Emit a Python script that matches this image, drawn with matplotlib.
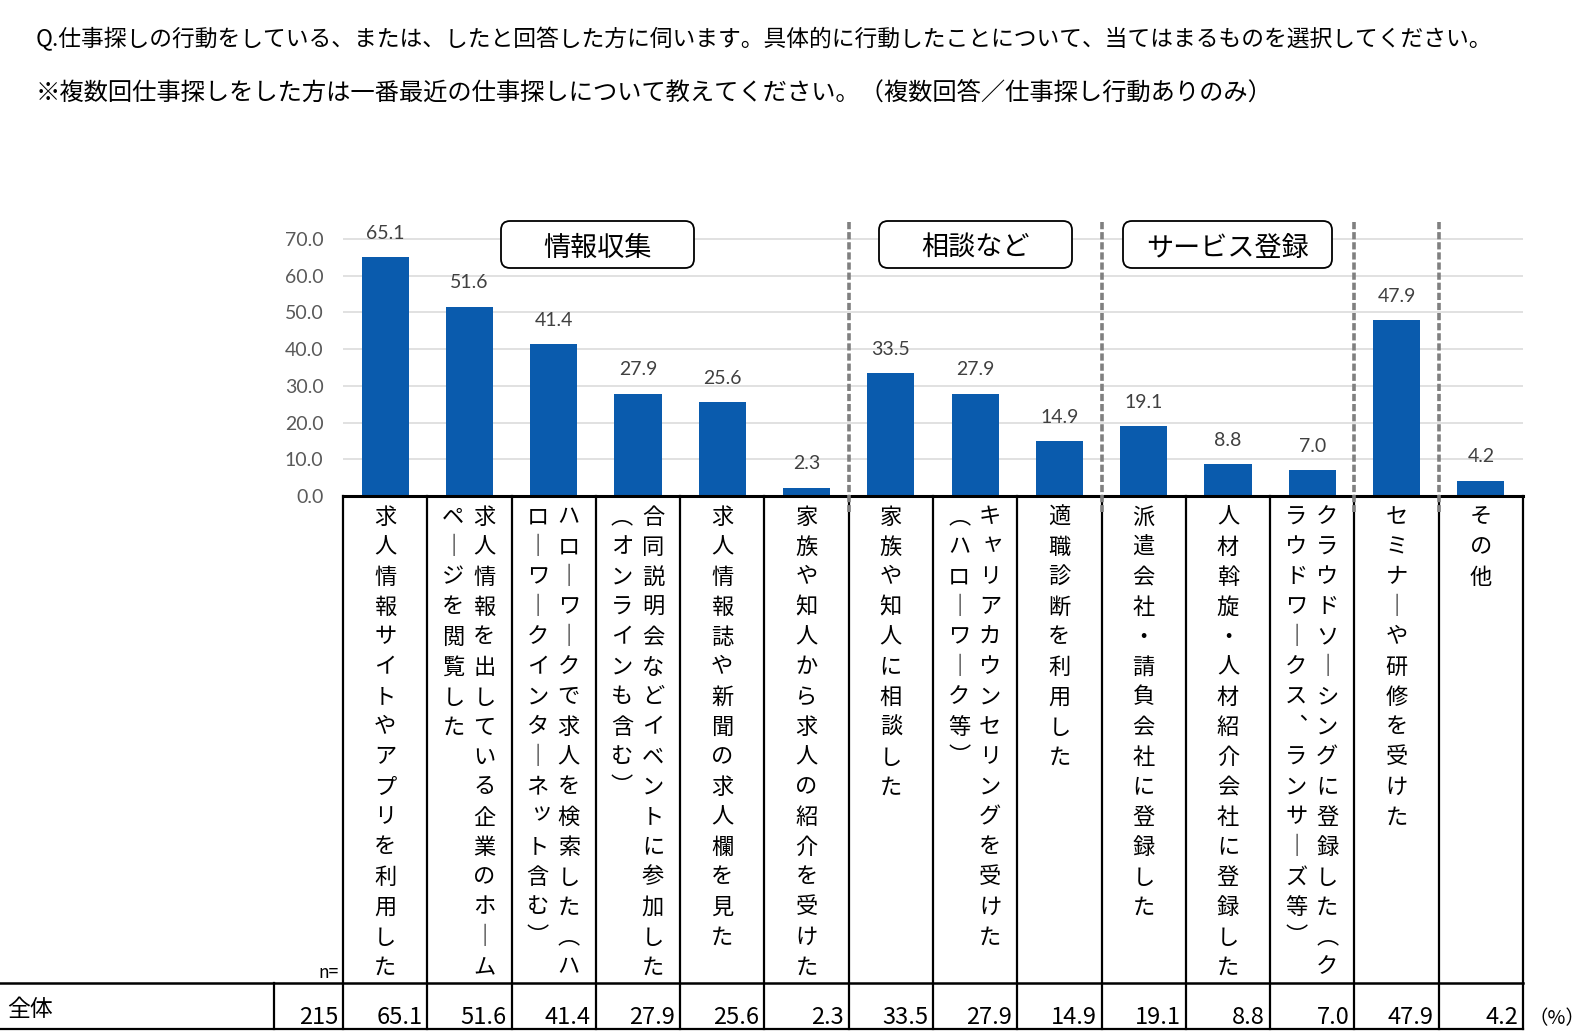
import matplotlib
matplotlib.use('Agg')
import matplotlib.pyplot as plt
from matplotlib.patches import FancyBboxPatch
import numpy as np

plt.rcParams['font.family'] = ['Noto Sans CJK JP', 'DejaVu Sans']

# ---- data ----
title1 = 'Q.仕事探しの行動をしている、または、したと回答した方に伺います。具体的に行動したことについて、当てはまるものを選択してください。'
title2 = '※複数回仕事探しをした方は一番最近の仕事探しについて教えてください。（複数回答／仕事探し行動ありのみ）'
categories = [
    '求人情報サイトやアプリを利用した',
    '求人情報を出している企業のホームページを閲覧した',
    'ハローワークで求人を検索した（ハローワークインターネット含む）',
    '合同説明会などイベントに参加した（オンラインも含む）',
    '求人情報誌や新聞の求人欄を見た',
    '家族や知人から求人の紹介を受けた',
    '家族や知人に相談した',
    'キャリアカウンセリングを受けた（ハローワーク等）',
    '適職診断を利用した',
    '派遣会社・請負会社に登録した',
    '人材斡旋・人材紹介会社に登録した',
    'クラウドソーシングに登録した（クラウドワークス、ランサーズ等）',
    'セミナーや研修を受けた',
    'その他',
]
values = [65.1, 51.6, 41.4, 27.9, 25.6, 2.3, 33.5, 27.9, 14.9, 19.1, 8.8, 7.0, 47.9, 4.2]
group_names = ['情報収集', '相談など', 'サービス登録']
group_breaks = [5.5, 8.5, 11.5, 12.5]
row_label = '全体'
n_total = 215
y_ticks = np.arange(0, 71, 10)

# ---- layout (pixels) ----
W, H = 1593, 1032
X0, X1 = 343, 1523
COLW = (X1 - X0) / len(values)
Y0, Y70, YTOP = 496, 239, 221
BOX_BOTTOM, ROW_BOTTOM = 983, 1029

fig = plt.figure(figsize=(W / 100, H / 100), dpi=100)
per = (Y0 - Y70) / 70
ymax = (Y0 - YTOP) / per

ax = fig.add_axes([X0 / W, 1 - Y0 / H, (X1 - X0) / W, (Y0 - YTOP) / H])
x = np.arange(len(values))
ax.bar(x, values, width=0.56, color='#0A5BAD', zorder=3)
ax.set_xlim(-0.5, len(values) - 0.5)
ax.set_ylim(0, ymax)
ax.set_yticks(y_ticks)
ax.set_yticklabels(['%.1f' % v for v in y_ticks], family='Lato', fontsize=14, color='#595959')
ax.tick_params(axis='y', length=0, pad=14)
ax.set_xticks([])
ax.grid(axis='y', color='#d9d9d9', lw=1.1, zorder=0)
for s in ax.spines.values():
    s.set_visible(False)
for xi, v in zip(x, values):
    ax.annotate('%.1f' % v, (xi, v), xytext=(0, 17), textcoords='offset points',
                ha='center', va='center', fontsize=14, family='Lato', color='#404040')

# overlay in pixel coordinates for titles, boxes and table
ov = fig.add_axes([0, 0, 1, 1], zorder=5)
ov.set_xlim(0, W)
ov.set_ylim(H, 0)
ov.axis('off')
ov.patch.set_alpha(0)

ov.text(36, 39, title1, fontsize=16.4, va='center')
ov.text(36, 93, title2, fontsize=17.5, va='center')

# group boxes
group_boxes = [(501, 694), (879, 1072), (1123, 1332)]
for name, (l, r) in zip(group_names, group_boxes):
    ov.add_patch(FancyBboxPatch((l, 221), r - l, 47, boxstyle='round,pad=0,rounding_size=9',
                                fc='white', ec='black', lw=1.3))
    ov.text((l + r) / 2, 248, name, fontsize=19.5, ha='center', va='center')

# label boxes / table lines
for k in range(len(values) + 1):
    ov.plot([X0 + k * COLW] * 2, [Y0, ROW_BOTTOM], color='black', lw=1.6)
ov.plot([X0, X1], [Y0, Y0], color='black', lw=2.2)
ov.plot([0, X1], [BOX_BOTTOM, BOX_BOTTOM], color='black', lw=1.8)
ov.plot([0, X1], [ROW_BOTTOM, ROW_BOTTOM], color='black', lw=1.6)
ov.plot([274, 274], [BOX_BOTTOM, ROW_BOTTOM], color='black', lw=1.6)

# dashed group separators
for b in group_breaks:
    xb = X0 + (b + 0.5) * COLW
    ov.plot([xb, xb], [222, 512], color='#808080', lw=2.6, linestyle=(0, (2, 0.8)))

# vertical labels
VERT = {'ー': '｜', '（': '︵', '）': '︶', '、': '︑'}
SMALL = set('ャュョッァィゥェォ')


def columns(label, n=16):
    cols = []
    while label:
        c = label[:n]
        if c.endswith('（'):
            c = c[:-1]
        cols.append(c)
        label = label[len(c):]
    return cols


for i, lab in enumerate(categories):
    cols = columns(lab)
    cx = X0 + (i + 0.5) * COLW
    offs = [0] if len(cols) == 1 else [15, -16]
    for off, col in zip(offs, cols):
        for k, ch in enumerate(col):
            dx, dy = (3, -4) if ch in SMALL else (0, 0)
            ov.text(cx + off + dx, 517 + 30 * k + dy, VERT.get(ch, ch), fontsize=16,
                    ha='center', va='center')

# table row
ov.text(339, 973, 'n=', fontsize=12.5, ha='right', va='center')
ov.text(7, 1010, row_label, fontsize=16.5, va='center')
ov.text(338, 1017, str(n_total), fontsize=17, ha='right', va='center')
for i, v in enumerate(values):
    ov.text(X0 + (i + 1) * COLW - 5, 1017, '%.1f' % v, fontsize=17, ha='right', va='center')
ov.text(1528, 1019, '（%）', fontsize=14, va='center')

fig.savefig('out.png', dpi=100)
